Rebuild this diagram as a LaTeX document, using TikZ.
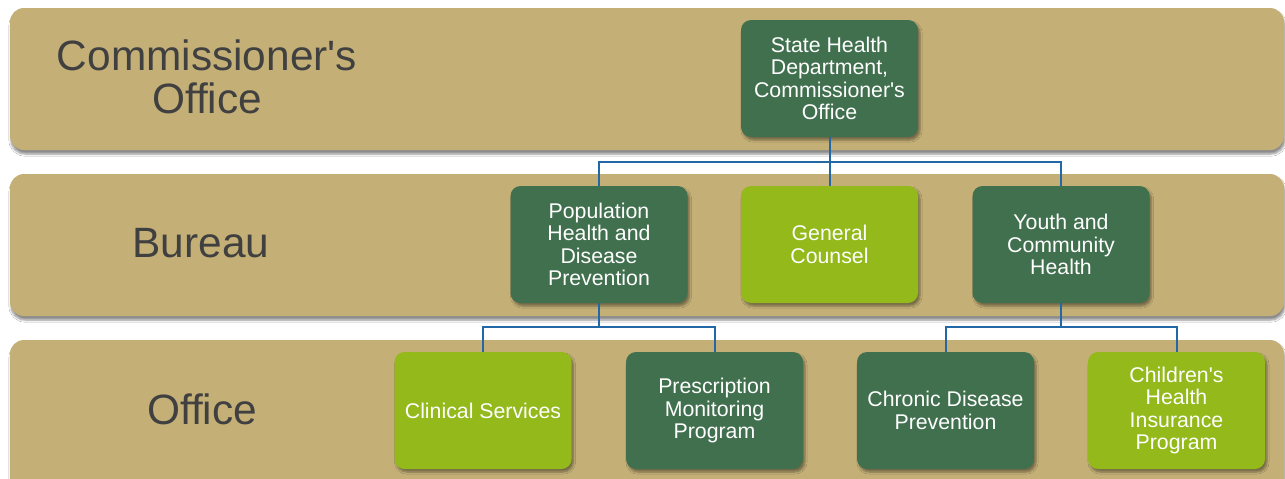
\documentclass[tikz,border=0pt]{standalone}
\usepackage{fontspec}
\setmainfont{Liberation Sans}
\usetikzlibrary{shadows.blur}
\definecolor{bandtan}{HTML}{C4B077}
\definecolor{darkgr}{HTML}{41704F}
\definecolor{lightgr}{HTML}{93B91B}
\definecolor{connblue}{HTML}{2268A6}
\definecolor{labgray}{HTML}{404040}
\tikzset{
  band/.style={fill=bandtan, rounded corners=14pt, blur shadow={shadow xshift=1pt, shadow yshift=-4pt, shadow blur steps=6, shadow opacity=45}},
  unit/.style={rounded corners=10pt, minimum width=177pt, minimum height=117pt, text=white, align=center,
    font=\fontsize{21.3}{22.3}\selectfont, inner sep=2pt,
    blur shadow={shadow xshift=2pt, shadow yshift=-3pt, shadow blur steps=5, shadow opacity=40}},
  darkunit/.style={unit, fill=darkgr},
  lightunit/.style={unit, fill=lightgr},
  level/.style={text=labgray, align=center, font=\fontsize{42.4}{43}\selectfont},
  conn/.style={draw=connblue, line width=2pt}
}
\begin{document}
\begin{tikzpicture}[x=1pt,y=-1pt]
\useasboundingbox (0,0) rectangle (1285,479);
\fill[white] (0,0) rectangle (1285,479);
\clip (0,0) rectangle (1285,479);
% bands
\path[band] (10,8) rectangle (1284,150);
\path[band] (10,174) rectangle (1284,316);
\path[band] (10,340) rectangle (1284,520);
% level labels
\node[level] (lc) at (207,77) {Commissioner\textquotesingle s\\Office};
\node[level] (lb) at (201,243) {Bureau};
\node[level] (lo) at (202,409) {Office};
% units
\node[darkunit] (st) at (829.5,78.5) {State Health\\Department,\\Commissioner\textquotesingle s\\Office};
\node[darkunit] (pop) at (599,244.5) {Population\\Health and\\Disease\\Prevention};
\node[lightunit] (gc) at (829.5,244.5) {General\\Counsel};
\node[darkunit] (yth) at (1061,244.5) {Youth and\\Community\\Health};
\node[lightunit] (cs) at (483,410.5) {Clinical Services};
\node[darkunit] (pmp) at (714.5,410.5) {Prescription\\Monitoring\\Program};
\node[darkunit] (cdp) at (945.5,410.5) {Chronic Disease\\Prevention};
\node[lightunit] (chip) at (1176.5,410.5) {Children\textquotesingle s\\Health\\Insurance\\Program};
% connectors
\coordinate (j1) at (829.5,162);
\coordinate (j2) at (599,327);
\coordinate (j3) at (1061,327);
\draw[conn] (st.south) -- (j1);
\draw[conn] (j1) -| (pop.north);
\draw[conn] (j1) -| (yth.north);
\draw[conn] (j1) -- (gc.north);
\draw[conn] (pop.south) -- (j2);
\draw[conn] (j2) -| (cs.north);
\draw[conn] (j2) -| (pmp.north);
\draw[conn] (yth.south) -- (j3);
\draw[conn] (j3) -| (cdp.north);
\draw[conn] (j3) -| (chip.north);
\end{tikzpicture}
\end{document}
